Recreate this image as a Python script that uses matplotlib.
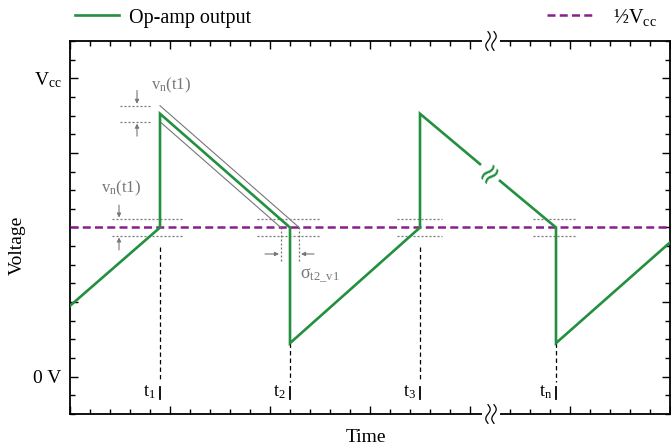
import numpy as np
import matplotlib
matplotlib.use('Agg')
import matplotlib.pyplot as plt
from matplotlib.lines import Line2D

plt.rcParams['font.family'] = ['Liberation Serif', 'DejaVu Serif']
plt.rcParams['mathtext.fontset'] = 'custom'
plt.rcParams['mathtext.rm'] = 'Liberation Serif'
plt.rcParams['mathtext.it'] = 'Liberation Serif:italic'

# waveform (x in minor-tick units, y in minor-tick units, Vcc = 16)
wave1_x = [0, 4.5, 4.5, 11.0, 11.0, 17.5, 17.5, 20.5]
wave1_y = [3.8, 8, 14.1, 8, 1.8, 8, 14.1, 11.4]
wave2_x = [21.5, 24.3, 24.3, 30]
wave2_y = [10.5, 8, 1.8, 7.2]

half_vcc = 8
vcc = 16
vn = 0.43

t_marks = [4.5, 11.0, 17.5, 24.3]
t_labels = ['t$_1$', 't$_2$', 't$_3$', 't$_\\mathrm{n}$']
dash_tops = [6.95, 1.8, 6.95, 1.8]

# dotted band extents around the crossings
band_x0 = [2.1, 9.35, 16.35, 23.15]
band_x1 = [5.6, 12.5, 18.6, 25.35]

green = '#23903f'
purple = '#8a1f8a'
gray = '#777777'

fig = plt.figure(figsize=(6.71, 4.46), dpi=100)
ax = fig.add_axes([70/671, 32/446, 600/671, 373/446])
ax.set_xlim(0, 30)
ax.set_ylim(-2, 18)

# half Vcc line
ax.plot([0, 30], [half_vcc, half_vcc], color=purple, lw=1.8, dashes=(3.2, 1.7), zorder=3)

# dotted bands
for a, b in zip(band_x0, band_x1):
    for yy in (half_vcc + vn, half_vcc - vn):
        ax.plot([a, b], [yy, yy], color=gray, lw=0.9, ls=(0, (1.6, 1.6)), zorder=2)

# peak bands at t1
peak = wave1_y[2]
for yy in (peak + vn, peak - vn):
    ax.plot([2.5, 4.0], [yy, yy], color=gray, lw=0.9, ls=(0, (1.6, 1.6)), zorder=2)

# noise envelope on first falling edge
s = (peak - half_vcc) / (wave1_x[3] - wave1_x[2])
for sign in (1, -1):
    xe = wave1_x[3] + sign * vn / s
    ax.plot([wave1_x[2], xe], [peak + sign * vn, half_vcc], color=gray, lw=0.8, zorder=3)
    ax.plot([xe, xe], [half_vcc, 6.15], color=gray, lw=0.9, ls=(0, (1.6, 1.6)), zorder=2)

# waveform
ax.plot(wave1_x, wave1_y, color=green, lw=1.9, zorder=4, solid_joinstyle='miter')
ax.plot(wave2_x, wave2_y, color=green, lw=1.9, zorder=4, solid_joinstyle='miter')
ax.text(21.0, 10.95, '≈', color=green, fontsize=21, rotation=42,
        ha='center', va='center', family='DejaVu Sans', zorder=4)

# time markers
for t, lab, top in zip(t_marks, t_labels, dash_tops):
    ax.plot([t, t], [top, -0.27], color='black', lw=0.9, dashes=(3.5, 2.5), zorder=2)
    ax.plot([t, t], [-0.55, -1.2], color='black', lw=1.3, zorder=2)
    ax.text(t - 0.2, -0.85, lab, ha='right', va='center', fontsize=13)

# arrows
arw = dict(arrowstyle='-|>', color=gray, lw=0.8, mutation_scale=6, shrinkA=0, shrinkB=0)
ax.annotate('', xy=(3.35, peak + vn + 0.1), xytext=(3.35, 15.35), arrowprops=arw)
ax.annotate('', xy=(3.35, peak - vn - 0.1), xytext=(3.35, 12.9), arrowprops=arw)
ax.annotate('', xy=(2.45, half_vcc + vn + 0.1), xytext=(2.45, 9.2), arrowprops=arw)
ax.annotate('', xy=(2.45, half_vcc - vn - 0.1), xytext=(2.45, 6.8), arrowprops=arw)
ax.annotate('', xy=(10.45, 6.58), xytext=(9.75, 6.58), arrowprops=arw)
ax.annotate('', xy=(11.55, 6.58), xytext=(12.2, 6.58), arrowprops=arw)

ax.text(5.05, 15.6, 'v$_\\mathrm{n}$(t1)', color=gray, fontsize=12, ha='center', va='center')
ax.text(2.55, 10.1, 'v$_\\mathrm{n}$(t1)', color=gray, fontsize=12, ha='center', va='center')
ax.text(11.5, 5.45, '$\\mathrm{\\sigma}_\\mathrm{t2\\_v1}$', color=gray, fontsize=13,
        ha='left', va='center')

# ticks
major_x = np.arange(0, 31, 5)
minor_x = [i for i in range(31) if i % 5 != 0 and i != 21]
ax.set_xticks(major_x)
ax.set_xticks(minor_x, minor=True)
ax.set_yticks([0, 4, 8, 12, 16])
ax.set_yticks(np.arange(-2, 19), minor=True)
ax.set_yticklabels(['0 V', '', '', '', 'V$_\\mathrm{cc}$'], fontsize=14)
ax.set_xticklabels([])
ax.tick_params(which='both', direction='in', top=True, right=True, width=1.0, color='black')
ax.tick_params(which='major', length=5.5, pad=6)
ax.tick_params(which='minor', length=3.5)
for sp in ax.spines.values():
    sp.set_linewidth(1.3)

# axis break
for yb in (-2, 18):
    ax.plot([20.6, 21.5], [yb, yb], color='white', lw=4, clip_on=False, zorder=5,
            solid_capstyle='butt')
    yy = np.linspace(yb - 0.5, yb + 0.5, 40)
    for x0 in (20.9, 21.2):
        ax.plot(x0 + 0.11 * np.sin(2 * np.pi * (yy - yb) / 1.0), yy,
                color='black', lw=0.9, clip_on=False, zorder=6)

fig.text(17/671, 1 - 245/446, 'Voltage', rotation=90, ha='center', va='center', fontsize=14)
fig.text(366/671, 1 - 437/446, 'Time', ha='center', va='center', fontsize=14)

# legends
h1 = Line2D([], [], color=green, lw=1.9)
h2 = Line2D([], [], color=purple, lw=1.8, dashes=(3.2, 1.7))
leg1 = fig.legend([h1], ['Op-amp output'], loc='center left', bbox_to_anchor=(75/671, 1 - 18/446),
                  frameon=False, fontsize=14.5, handlelength=2.2, handletextpad=0.5,
                  borderpad=0, borderaxespad=0)
leg2 = fig.legend([h2], ['½V$_\\mathrm{cc}$'], loc='center left', bbox_to_anchor=(547/671, 1 - 17/446),
                  frameon=False, fontsize=14.5, handlelength=2.3, handletextpad=1.0,
                  borderpad=0, borderaxespad=0)

fig.savefig('out.png', dpi=100)
